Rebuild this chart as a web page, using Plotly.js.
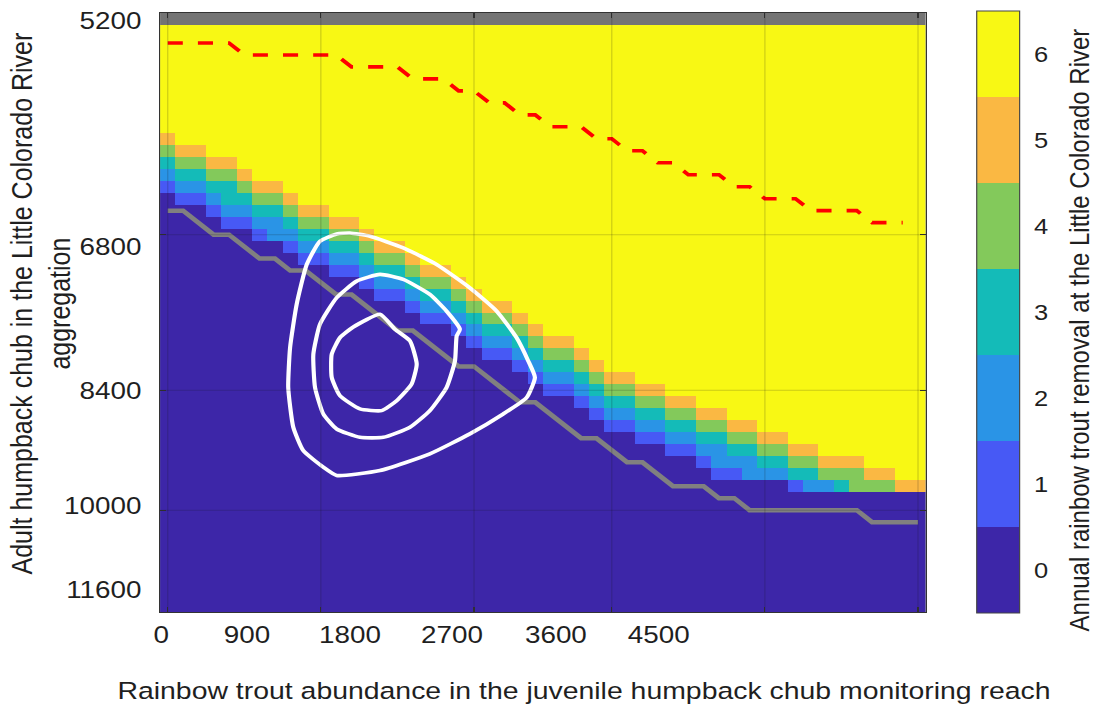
<!DOCTYPE html>
<html>
<head>
<meta charset="utf-8">
<script src="https://cdn.plot.ly/plotly-3.0.1.min.js"></script>
<style>
  html, body { margin: 0; padding: 0; background: #ffffff; overflow: hidden; }
  #wrap { width: 1098px; height: 706px; overflow: hidden; }
  /* the figure is laid out narrower and widened horizontally as a whole */
  #chart { width: 946px; height: 706px; transform: scaleX(1.16); transform-origin: 0 0; }
</style>
</head>
<body>
<div id="wrap"><div id="chart"></div></div>
<script>
// Removal surface: for each column (trout abundance bin) the first row (adult chub bin,
// counted from the top) at which the annual removal count falls to 5, 4, 3, 2, 1 and 0.
const startOf5 = [10,11,11,12,12,13,14,14,15,16, 16,17,17,18,19,19,20,21,21,22, 23,24,24,25,26,27,27,28,29,30, 30,31,31,32,32,33,33,34,34,35, 35,36,36,37,37,37,38,38,39,39];
const startOf4 = [11,12,12,13,13,14,15,15,16,17, 17,18,18,19,20,20,21,22,22,23, 24,25,25,26,27,28,28,29,30,31, 31,32,32,33,33,34,34,35,35,36, 36,37,37,38,38,38,39,39,40,40];
const startOf3 = [12,13,13,14,14,15,16,16,17,18, 18,19,19,20,21,21,22,23,23,24, 25,26,26,27,28,29,29,30,31,32, 32,33,33,34,34,35,35,36,36,37, 37,38,38,39,39,40,40,40,40,40];
const startOf2 = [13,14,14,15,16,16,17,17,18,19, 19,20,20,21,22,22,23,24,24,25, 26,27,27,28,29,30,30,31,32,33, 33,34,34,35,35,36,36,37,37,38, 38,39,39,39,40,40,40,40,40,40];
const startOf1 = [14,15,15,16,17,17,18,19,19,20, 20,21,21,22,23,23,24,25,25,26, 27,28,28,29,30,31,31,32,33,34, 34,35,35,36,36,37,38,38,39,39, 39,39,40,40,40,40,40,40,40,40];
const startOf0 = [15,16,16,17,18,18,19,19,20,21, 21,22,22,23,24,24,25,26,26,27, 28,29,29,30,31,32,32,33,34,35, 35,36,36,37,37,38,39,39,39,39, 39,40,40,40,40,40,40,40,40,40];

const removalLevels = [0, 1, 2, 3, 4, 5, 6];
const levelColors = ['#3D26A8', '#4759F5', '#2A94E6', '#14BBB8', '#83C95B', '#FAB843', '#F8F814'];

// Grey reference line (column, row)
const greyX = [0,1,3,4,6,7,8,9,11,12,15,16,19,20,23,24,27,28,30,31,33,35,36,37,38,45,46,49];
const greyY = [16,16,18,18,20,20,21,21,23,23,26,26,29,29,32,32,35,35,37,37,39,39,40,40,41,41,42,42];

// Red dashed boundary (column, row)
const redX = [0,4,5,11,12,15,16,18,19,20,21,22,23,24,25,27,28,29,30,31,32,33,34,36,37,38,39,41,42,45,46,48];
const redY = [2,2,3,3,4,4,5,5,6,6,7,7,8,8,9,9,10,10,11,11,12,12,13,13,14,14,15,15,16,16,17,17];

// Joint-density contours (column, row)
const outerX = [11.90,13.21,15.38,17.56,19.73,21.48,22.78,23.54,23.98,23.44,21.91,19.73,17.12,13.86,11.03,10.16,8.85,8.20,7.87,7.99,8.42,9.08,9.94,11.03,11.90];
const outerY = [17.86,18.14,19.11,20.49,22.44,24.38,26.60,28.53,29.92,31.59,32.97,34.63,36.30,37.69,38.10,37.41,36.02,34.08,30.76,27.43,23.82,20.49,18.55,17.94,17.86];
const middleX = [13.86,15.38,17.12,18.21,19.08,18.87,18.76,18.21,17.12,15.82,14.08,12.55,11.03,10.16,9.62,9.51,9.94,11.03,12.34,13.86];
const middleY = [21.32,21.74,22.99,24.38,25.90,26.46,28.54,30.76,32.69,34.08,34.92,34.92,34.22,32.97,30.76,27.98,25.48,23.27,21.88,21.32];
const innerX = [13.86,14.84,15.82,16.26,15.93,14.95,13.97,12.55,11.25,10.71,10.71,11.25,12.12,13.86];
const innerY = [24.65,25.90,26.87,28.81,30.47,31.86,32.69,32.55,31.45,29.92,27.98,26.60,25.71,24.65];

// Axis ticks
const xGridAt = [0, 10, 20, 29, 39, 49];
const xLabelAt = [-0.43, 5.18, 11.9, 18.56, 25.35, 32.07];
const xLabels = ['0', '900', '1800', '2700', '3600', '4500'];
const yGridAt = [18, 31, 41];
const yLabelAt = [0.17, 18.97, 31.03, 40.6, 47.6];
const yLabels = ['5200', '6800', '8400', '10000', '11600'];

const nRows = 50, nCols = startOf5.length;
const z = [];
for (let r = 0; r < nRows; r++) {
  const row = [];
  for (let c = 0; c < nCols; c++) {
    if (r === 0) { row.push(null); continue; }   // empty top row shows the grey backdrop
    let v;
    if (r < startOf5[c]) v = 6;
    else if (r < startOf4[c]) v = 5;
    else if (r < startOf3[c]) v = 4;
    else if (r < startOf2[c]) v = 3;
    else if (r < startOf1[c]) v = 2;
    else if (r < startOf0[c]) v = 1;
    else v = 0;
    row.push(v);
  }
  z.push(row);
}

const nLev = removalLevels.length;
const colorscale = [];
levelColors.forEach((col, k) => {
  colorscale.push([k / nLev, col]);
  colorscale.push([(k + 1) / nLev, col]);
});

const FONT = 'Liberation Sans, Arial, Helvetica, sans-serif';
const TXT = '#1f1f1f';

const contourLine = { color: '#ffffff', width: 3.6, shape: 'spline', smoothing: 0.5 };

const traces = [
  {
    type: 'heatmap', z: z, zmin: -0.5, zmax: 6.5, colorscale: colorscale,
    hoverinfo: 'skip',
    colorbar: {
      x: 1.067, xanchor: 'left', xpad: 0, y: 0.5008, yanchor: 'middle', ypad: 0,
      len: 602, lenmode: 'pixels', thickness: 37, thicknessmode: 'pixels',
      outlinewidth: 1, outlinecolor: '#444444',
      tickvals: removalLevels, ticktext: removalLevels.map(String),
      ticks: 'outside', ticklen: 8, tickcolor: 'rgba(0,0,0,0)',
      tickfont: { family: FONT, size: 22, color: TXT }
    }
  },
  { type: 'scatter', mode: 'lines', x: greyX, y: greyY, line: { color: '#808080', width: 4.5 }, hoverinfo: 'skip', showlegend: false },
  { type: 'scatter', mode: 'lines', x: redX, y: redY, line: { color: '#FF0000', width: 3.6, dash: '13px,13px' }, hoverinfo: 'skip', showlegend: false },
  { type: 'scatter', mode: 'lines', x: outerX, y: outerY, line: contourLine, hoverinfo: 'skip', showlegend: false },
  { type: 'scatter', mode: 'lines', x: middleX, y: middleY, line: contourLine, hoverinfo: 'skip', showlegend: false },
  { type: 'scatter', mode: 'lines', x: innerX, y: innerY, line: contourLine, hoverinfo: 'skip', showlegend: false },
  { type: 'scatter', mode: 'lines', x: [], y: [], xaxis: 'x2', yaxis: 'y2', hoverinfo: 'skip', showlegend: false }
];

const gridShapes = [];
xGridAt.forEach(v => gridShapes.push({ type: 'line', xref: 'x', yref: 'paper', x0: v, x1: v, y0: 0, y1: 1, layer: 'above', line: { color: 'rgba(25,25,25,0.2)', width: 1 } }));
yGridAt.forEach(v => gridShapes.push({ type: 'line', xref: 'paper', yref: 'y', x0: 0, x1: 1, y0: v, y1: v, layer: 'above', line: { color: 'rgba(25,25,25,0.2)', width: 1 } }));

const frameAxis = {
  ticks: 'inside', ticklen: 5, tickwidth: 1, tickcolor: '#333333',
  showticklabels: false, showgrid: false, zeroline: false,
  showline: true, linecolor: '#333333', linewidth: 1, mirror: 'ticks', layer: 'above traces'
};

const layout = {
  width: 946, height: 706,
  margin: { l: 138, r: 148, t: 11, b: 94 },
  paper_bgcolor: '#ffffff', plot_bgcolor: '#747474',
  font: { family: FONT, size: 24, color: TXT },
  showlegend: false,
  xaxis: Object.assign({ range: [-0.5, 49.5], tickvals: xGridAt }, frameAxis),
  yaxis: Object.assign({ range: [49.5, -0.5], tickvals: yGridAt }, frameAxis),
  xaxis2: {
    overlaying: 'x', anchor: 'y2', side: 'bottom', range: [-0.5, 49.5],
    tickvals: xLabelAt, ticktext: xLabels, ticks: '', showgrid: false, zeroline: false, showline: false,
    tickfont: { family: FONT, size: 24, color: TXT }, ticklabelstandoff: 6
  },
  yaxis2: {
    overlaying: 'y', anchor: 'x2', side: 'left', range: [49.5, -0.5],
    tickvals: yLabelAt, ticktext: yLabels, ticks: '', showgrid: false, zeroline: false, showline: false,
    tickfont: { family: FONT, size: 24, color: TXT }, ticklabelstandoff: 15
  },
  shapes: gridShapes,
  annotations: [
    {
      xref: 'paper', yref: 'paper', x: 0.5545, y: -0.1308, xanchor: 'center', yanchor: 'middle',
      showarrow: false, text: 'Rainbow trout abundance in the juvenile humpback chub monitoring reach',
      font: { family: FONT, size: 24.5, color: TXT }
    },
    {
      xref: 'paper', yref: 'paper', x: -0.1568, y: 0.5141, xanchor: 'center', yanchor: 'middle',
      textangle: -90, showarrow: false, align: 'center',
      text: 'Adult humpback chub in the Little Colorado River<br>aggregation',
      font: { family: FONT, size: 25, color: TXT }
    },
    {
      xref: 'paper', yref: 'paper', x: 1.201, y: 0.471, xanchor: 'center', yanchor: 'middle',
      textangle: -90, showarrow: false, borderpad: 0,
      text: 'Annual rainbow trout removal at the Little Colorado River',
      font: { family: FONT, size: 24, color: TXT }
    }
  ]
};

Plotly.newPlot('chart', traces, layout, { displayModeBar: false, staticPlot: true });
</script>
</body>
</html>
